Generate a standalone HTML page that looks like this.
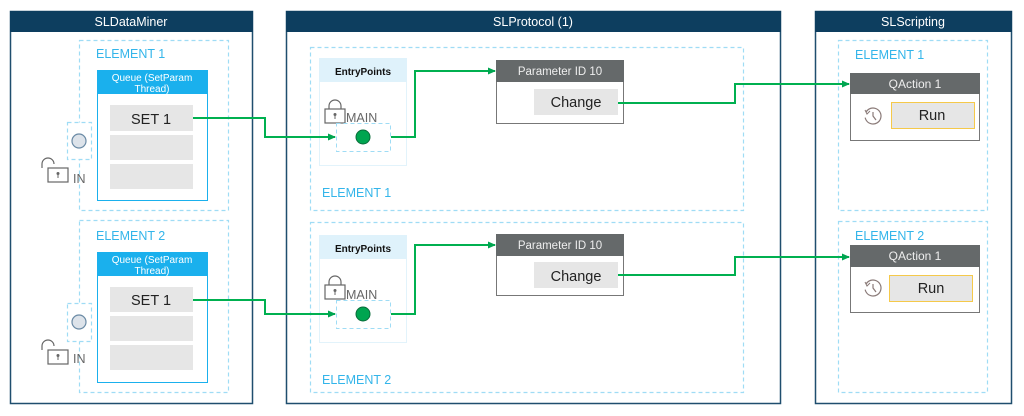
<!DOCTYPE html>
<html><head><meta charset="utf-8"><style>
html,body{margin:0;padding:0;background:#fff;}
svg{display:block;font-family:"Segoe UI","Liberation Sans",sans-serif;}
</style></head><body>
<svg width="1024" height="416" viewBox="0 0 1024 416" xmlns="http://www.w3.org/2000/svg">
<defs>
<marker id="ar" markerWidth="8" markerHeight="8" refX="7" refY="4" orient="auto" markerUnits="userSpaceOnUse"><path d="M0,0.5 L8,4 L0,7.5 Z" fill="#00a550"/></marker>
<g id="lockc"><rect x="0" y="8" width="20" height="14" fill="#fff" stroke="#666" stroke-width="1.2"/><path d="M4,8 V5 A6,6 0 0 1 16,5 V8" fill="none" stroke="#666" stroke-width="1.2"/><circle cx="10" cy="13.5" r="1.5" fill="#666"/><line x1="10" y1="14" x2="10" y2="18" stroke="#666"/></g>
<g id="locko"><rect x="0" y="8" width="20" height="14" fill="#fff" stroke="#666" stroke-width="1.2"/><path d="M-6,8 V4 A6,6 0 0 1 6,4" fill="none" stroke="#666" stroke-width="1.2"/><circle cx="10" cy="13.5" r="1.5" fill="#666"/><line x1="10" y1="14" x2="10" y2="18" stroke="#666"/></g>
<g id="clock"><circle cx="0" cy="0" r="8" fill="none" stroke="#8a7a78" stroke-width="1.2" stroke-dasharray="40 6" transform="rotate(-120)"/><path d="M0,-4 V0 L3,4" fill="none" stroke="#8a7a78" stroke-width="1.2"/><path d="M-8,-6 L-6,-2 L-3,-5" fill="none" stroke="#8a7a78" stroke-width="1"/></g>
</defs>

<g stroke="#1f4e6e" stroke-width="1.5" fill="#fff">
<rect x="10.5" y="11.5" width="242" height="392"/>
<rect x="286.5" y="11.5" width="494" height="392"/>
<rect x="815.5" y="11.5" width="196" height="392"/>
</g>
<g fill="#0d3e5f">
<rect x="10" y="11" width="243" height="21"/>
<rect x="286" y="11" width="495" height="21"/>
<rect x="815" y="11" width="197" height="21"/>
</g>
<g fill="#fff" font-size="12.5" text-anchor="middle">
<text x="131" y="26">SLDataMiner</text>
<text x="533" y="26">SLProtocol (1)</text>
<text x="913" y="26">SLScripting</text>
</g>

<g fill="none" stroke="#9fdcf5" stroke-width="1.2" stroke-dasharray="4 3">
<rect x="79.5" y="40.5" width="149" height="170"/>
<rect x="79.5" y="220.5" width="149" height="172"/>
<rect x="310.5" y="47.5" width="433" height="163"/>
<rect x="310.5" y="222.5" width="433" height="170"/>
<rect x="838.5" y="40.5" width="149" height="170"/>
<rect x="838.5" y="221.5" width="149" height="171"/>
<rect x="67.5" y="122.5" width="24" height="37" fill="#fff"/>
<rect x="67.5" y="303.5" width="24" height="38" fill="#fff"/>
</g>
<g fill="#33b5ea" font-size="12.5">
<text x="96" y="58">ELEMENT 1</text>
<text x="96" y="240">ELEMENT 2</text>
<text x="322" y="197">ELEMENT 1</text>
<text x="322" y="384">ELEMENT 2</text>
<text x="855" y="59">ELEMENT 1</text>
<text x="855" y="240">ELEMENT 2</text>
</g>

<g>
<rect x="97.5" y="70.5" width="110" height="130" fill="#fff" stroke="#1ab0ed"/>
<rect x="97" y="70" width="111" height="24" fill="#1ab0ed"/>
<text x="152" y="81" fill="#fff" font-size="10" text-anchor="middle">Queue (SetParam</text>
<text x="152" y="92" fill="#fff" font-size="10" text-anchor="middle">Thread)</text>
<rect x="110" y="105" width="83" height="26" fill="#e6e6e6"/>
<rect x="110" y="135" width="83" height="25" fill="#e6e6e6"/>
<rect x="110" y="164" width="83" height="25" fill="#e6e6e6"/>
<text x="151" y="124" font-size="14.5" text-anchor="middle" fill="#222">SET 1</text>
<circle cx="79" cy="141" r="7" fill="#dde3ea" stroke="#6a8aa5" stroke-width="1.2"/>
<use href="#locko" x="48" y="160"/>
<text x="73" y="183" font-size="12.5" fill="#666">IN</text>

<rect x="97.5" y="252.5" width="110" height="130" fill="#fff" stroke="#1ab0ed"/>
<rect x="97" y="252" width="111" height="24" fill="#1ab0ed"/>
<text x="152" y="263" fill="#fff" font-size="10" text-anchor="middle">Queue (SetParam</text>
<text x="152" y="274" fill="#fff" font-size="10" text-anchor="middle">Thread)</text>
<rect x="110" y="287" width="83" height="25" fill="#e6e6e6"/>
<rect x="110" y="316" width="83" height="25" fill="#e6e6e6"/>
<rect x="110" y="345" width="83" height="25" fill="#e6e6e6"/>
<text x="151" y="305" font-size="14.5" text-anchor="middle" fill="#222">SET 1</text>
<circle cx="79" cy="322" r="7" fill="#dde3ea" stroke="#6a8aa5" stroke-width="1.2"/>
<use href="#locko" x="48" y="342"/>
<text x="73" y="363" font-size="12.5" fill="#666">IN</text>
</g>

<g>
<rect x="319.5" y="58.5" width="87" height="107" fill="#fff" stroke="#e2f3fb"/>
<rect x="319" y="58" width="88" height="24" fill="#dff2fb"/>
<text x="363" y="75" font-size="10" font-weight="bold" text-anchor="middle" fill="#111">EntryPoints</text>
<use href="#lockc" x="325" y="101"/>
<text x="346" y="122" font-size="12.5" fill="#666">MAIN</text>
<rect x="336.5" y="123.5" width="54" height="28" fill="none" stroke="#9fdcf5" stroke-dasharray="4 3"/>
<circle cx="363" cy="137" r="7" fill="#00a550" stroke="#0a6b3a"/>

<rect x="319.5" y="235.5" width="87" height="107" fill="#fff" stroke="#e2f3fb"/>
<rect x="319" y="235" width="88" height="24" fill="#dff2fb"/>
<text x="363" y="252" font-size="10" font-weight="bold" text-anchor="middle" fill="#111">EntryPoints</text>
<use href="#lockc" x="325" y="277"/>
<text x="346" y="299" font-size="12.5" fill="#666">MAIN</text>
<rect x="336.5" y="300.5" width="54" height="28" fill="none" stroke="#9fdcf5" stroke-dasharray="4 3"/>
<circle cx="363" cy="314" r="7" fill="#00a550" stroke="#0a6b3a"/>
</g>

<g>
<rect x="496.5" y="60.5" width="127" height="63" fill="#fff" stroke="#777"/>
<rect x="496" y="60" width="128" height="22" fill="#65696a"/>
<text x="560" y="75" font-size="11.5" fill="#eee" text-anchor="middle">Parameter ID 10</text>
<rect x="534" y="89" width="84" height="26" fill="#e6e6e6"/>
<text x="576" y="107" font-size="14.5" fill="#222" text-anchor="middle">Change</text>

<rect x="496.5" y="234.5" width="127" height="61" fill="#fff" stroke="#777"/>
<rect x="496" y="234" width="128" height="22" fill="#65696a"/>
<text x="560" y="249" font-size="11.5" fill="#eee" text-anchor="middle">Parameter ID 10</text>
<rect x="534" y="262" width="84" height="26" fill="#e6e6e6"/>
<text x="576" y="281" font-size="14.5" fill="#222" text-anchor="middle">Change</text>
</g>

<g>
<rect x="850.5" y="73.5" width="129" height="67" fill="#fff" stroke="#777"/>
<rect x="850" y="73" width="130" height="21" fill="#65696a"/>
<text x="915" y="88" font-size="12" fill="#eee" text-anchor="middle">QAction 1</text>
<rect x="891.5" y="102.5" width="83" height="26" fill="#e6e6e6" stroke="#f5c94a"/>
<text x="932" y="120" font-size="14.5" fill="#222" text-anchor="middle">Run</text>
<use href="#clock" x="873" y="116"/>

<rect x="850.5" y="245.5" width="129" height="67" fill="#fff" stroke="#777"/>
<rect x="850" y="245" width="130" height="22" fill="#65696a"/>
<text x="915" y="260" font-size="12" fill="#eee" text-anchor="middle">QAction 1</text>
<rect x="889.5" y="275.5" width="83" height="26" fill="#e6e6e6" stroke="#f5c94a"/>
<text x="931" y="293" font-size="14.5" fill="#222" text-anchor="middle">Run</text>
<use href="#clock" x="873" y="288"/>
</g>

<g fill="none" stroke="#00b050" stroke-width="2" marker-end="url(#ar)">
<polyline points="193,118 265,118 265,137 335,137"/>
<polyline points="193,300 265,300 265,314 335,314"/>
<polyline points="391,137 415,137 415,71 495,71"/>
<polyline points="391,314 415,314 415,245 495,245"/>
<polyline points="618,103 735,103 735,84 849,84"/>
<polyline points="618,275 735,275 735,257 849,257"/>
</g>
</svg>
</body></html>
